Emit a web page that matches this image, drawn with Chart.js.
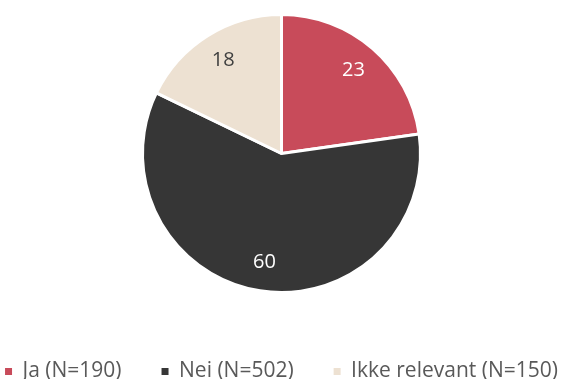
<!DOCTYPE html>
<html>
<head>
<meta charset="utf-8">
<script src="https://cdn.jsdelivr.net/npm/chart.js@4"></script>
<style>
  html, body { margin: 0; padding: 0; background: #fff; }
  #wrap { width: 563px; height: 379px; }
</style>
</head>
<body>
<div id="wrap"><canvas id="pie-chart"></canvas></div>
<script>
// categories and counts
const categories = ['Ja', 'Nei', 'Ikke relevant'];
const counts = [190, 502, 150];
// percentages as printed in the slices
const percents = [23, 60, 18];

const sliceColors = ['#C84B5A', '#363636', '#EDE1D2'];
const labelColors = ['#ffffff', '#ffffff', '#404040'];

const sliceLabels = {
    id: 'sliceLabels',
    afterDatasetsDraw(chart) {
        const ctx = chart.ctx;
        const meta = chart.getDatasetMeta(0);
        ctx.save();
        ctx.font = '20px "Open Sans"';
        ctx.textAlign = 'center';
        ctx.textBaseline = 'middle';
        meta.data.forEach((arc, i) => {
            const p = arc.getProps(['x', 'y', 'startAngle', 'endAngle', 'outerRadius']);
            const mid = (p.startAngle + p.endAngle) / 2;
            const r = p.outerRadius * 0.79;
            ctx.fillStyle = labelColors[i];
            ctx.fillText(String(percents[i]), p.x + Math.cos(mid) * r, p.y + Math.sin(mid) * r);
        });
        ctx.restore();
    }
};

const defaultLabels = Chart.controllers.doughnut.overrides.plugins.legend.labels.generateLabels;

new Chart(document.querySelector('#pie-chart').getContext('2d'), {
    type: 'pie',
    data: {
        labels: categories.map((c, i) => c + ' (N=' + counts[i] + ')'),
        datasets: [{
            data: percents,
            backgroundColor: sliceColors,
            borderColor: '#ffffff',
            borderWidth: 3
        }]
    },
    options: {
        responsive: true,
        maintainAspectRatio: false,
        animation: false,
        layout: { padding: { top: 13, bottom: -13, left: -40, right: -40 } },
        plugins: {
            tooltip: { enabled: false },
            legend: {
                position: 'bottom',
                title: { display: true, text: ' ', padding: { top: 15, bottom: 0 }, font: { size: 10 } },
                labels: {
                    usePointStyle: true,
                    pointStyle: 'rect',
                    boxWidth: 7,
                    boxHeight: 7,
                    padding: 40,
                    color: '#595959',
                    font: { family: 'Open Sans', size: 21 },
                    generateLabels(chart) {
                        const items = defaultLabels(chart);
                        items.forEach(item => { item.lineWidth = 0; });
                        return items;
                    }
                }
            }
        }
    },
    plugins: [sliceLabels]
});
</script>
</body>
</html>
